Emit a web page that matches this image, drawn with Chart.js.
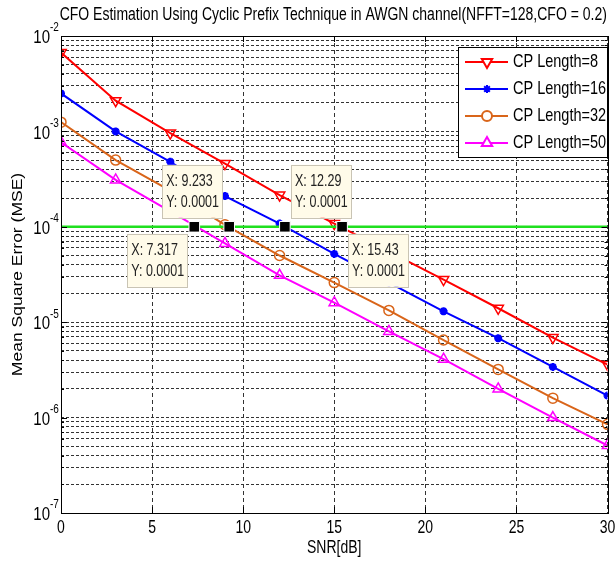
<!DOCTYPE html>
<html><head><meta charset="utf-8">
<script src="https://cdn.jsdelivr.net/npm/chart.js@4/dist/chart.umd.min.js"></script>
<style>html,body{margin:0;padding:0;overflow:hidden;background:#fff;width:616px;height:565px}canvas{display:block}</style>
</head><body>
<canvas id="c" width="616" height="565"></canvas>
<script>
// ---- data ----
const snr = [0, 3, 6, 9, 12, 15, 18, 21, 24, 27, 30];
const cp8  = [6.7e-3, 2.1e-3, 9.6e-4, 4.6e-4, 2.15e-4, 1.08e-4, 5.5e-5, 2.8e-5, 1.4e-5, 6.9e-6, 3.6e-6];
const cp16 = [2.5e-3, 1.0e-3, 4.8e-4, 2.1e-4, 1.08e-4, 5.2e-5, 2.6e-5, 1.3e-5, 6.8e-6, 3.4e-6, 1.7e-6];
const cp32 = [1.25e-3, 5.0e-4, 2.4e-4, 1.05e-4, 5.0e-5, 2.6e-5, 1.33e-5, 6.5e-6, 3.2e-6, 1.6e-6, 8.5e-7];
const cp50 = [7.7e-4, 3.1e-4, 1.45e-4, 6.7e-5, 3.1e-5, 1.6e-5, 8.0e-6, 4.1e-6, 2.0e-6, 1.0e-6, 5.1e-7];
const seriesLabels = ['CP Length=8', 'CP Length=16', 'CP Length=32', 'CP Length=50'];
const targetMSE = 1e-4;
const targetRange = [0, 30];
const tipX = ['7.317', '9.233', '12.29', '15.43'];
const xTicks = [0, 5, 10, 15, 20, 25, 30];
const yDecades = [-7, -6, -5, -4, -3, -2];
const titleText = 'CFO Estimation Using Cyclic Prefix Technique in AWGN channel(NFFT=128,CFO = 0.2)';
const xTitle = 'SNR[dB]';
const yTitle = 'Mean Square Error (MSE)';

// ---- styles ----
const colors = ['#ff0000', '#0000ff', '#d9651a', '#ff00ff'];
const markers = [
  {pointStyle: 'triangle', rotation: 180, radius: 6, fill: false, bw: 1.5},
  {pointStyle: 'star', rotation: 0, radius: 4, fill: true, bw: 2.5},
  {pointStyle: 'circle', rotation: 0, radius: 5, fill: false, bw: 1.5},
  {pointStyle: 'triangle', rotation: 0, radius: 6, fill: false, bw: 1.5}
];
const tipPlacement = ['bl', 'tl', 'tr', 'br'];
const FONT = '"Liberation Sans", Arial, sans-serif';
const SY = 1.25;

const yTickValues = [];
yDecades.forEach((d, i) => {
  if (i < yDecades.length - 1) { for (let m = 1; m <= 9; m++) yTickValues.push(m * Math.pow(10, d)); }
  else yTickValues.push(Math.pow(10, d));
});

function txt(ctx, s, x, y, size, align, opts = {}) {
  ctx.save();
  ctx.translate(x, y);
  if (opts.rot) ctx.rotate(opts.rot);
  if (opts.rot) ctx.scale(SY, 1); else ctx.scale(1, SY);
  ctx.font = size + 'px ' + FONT;
  ctx.fillStyle = opts.color || '#000';
  ctx.textAlign = align;
  ctx.textBaseline = 'middle';
  ctx.fillText(s, 0, 0);
  ctx.restore();
}

function drawMarker(ctx, i, x, y) {
  const m = markers[i];
  Chart.helpers.drawPoint(ctx, {pointStyle: m.pointStyle, rotation: m.rotation, radius: m.radius, borderWidth: m.bw}, x, y);
}

const decor = {
  id: 'decor',
  afterDatasetsDraw(chart) {
    const {ctx, chartArea: a, scales: {x, y}} = chart;
    ctx.save();
    ctx.setLineDash([]);
    ctx.strokeStyle = '#000';
    ctx.lineWidth = 1;
    // tick marks
    ctx.beginPath();
    xTicks.forEach(v => {
      const px = Math.round(x.getPixelForValue(v)) + 0.5;
      ctx.moveTo(px, a.bottom); ctx.lineTo(px, a.bottom - 6);
      ctx.moveTo(px, a.top); ctx.lineTo(px, a.top + 6);
    });
    yTickValues.forEach(v => {
      const py = Math.round(y.getPixelForValue(v)) + 0.5;
      const major = Math.abs(Math.log10(v) - Math.round(Math.log10(v))) < 1e-9;
      const len = major ? 6 : 3;
      ctx.moveTo(a.left, py); ctx.lineTo(a.left + len, py);
      ctx.moveTo(a.right, py); ctx.lineTo(a.right - len, py);
    });
    ctx.stroke();
    // box
    ctx.strokeRect(Math.round(a.left) + 0.5, Math.round(a.top) + 0.5, Math.round(a.right - a.left), Math.round(a.bottom - a.top));

    // data tips
    const py = y.getPixelForValue(targetMSE);
    tipX.forEach((t, i) => {
      const px = x.getPixelForValue(parseFloat(t));
      const w = 60, h = 53;
      const pl = tipPlacement[i];
      const left = pl[1] === 'l' ? px - 7 - w : px + 6;
      const top = pl[0] === 't' ? py - 9 - h : py + 7;
      ctx.fillStyle = '#fffbe9';
      ctx.strokeStyle = '#c9c4b4';
      ctx.lineWidth = 1;
      ctx.fillRect(left, top, w, h);
      ctx.strokeRect(Math.round(left) + 0.5, Math.round(top) + 0.5, w, h);
      txt(ctx, 'X: ' + t, left + 4, top + 17, 12.5, 'left', {color: '#222'});
      txt(ctx, 'Y: ' + targetMSE, left + 4, top + 38, 12.5, 'left', {color: '#222'});
    });

    // legend
    const lx = 458, ly = 47, lw = 149, lh = 110;
    ctx.fillStyle = '#fff';
    ctx.fillRect(lx, ly, lw, lh);
    ctx.strokeStyle = '#000';
    ctx.strokeRect(lx + 0.5, ly + 0.5, lw, lh);
    seriesLabels.forEach((s, i) => {
      const cy = 62 + i * 27;
      ctx.strokeStyle = colors[i];
      ctx.lineWidth = 2;
      ctx.beginPath(); ctx.moveTo(465, cy); ctx.lineTo(508, cy); ctx.stroke();
      ctx.fillStyle = markers[i].fill ? colors[i] : '#fff';
      drawMarker(ctx, i, 487, cy);
      txt(ctx, s, 513, cy, 14.5, 'left');
    });
    ctx.restore();
  },
  afterDraw(chart) {
    const {ctx, chartArea: a, scales: {x, y}} = chart;
    const cx = (a.left + a.right) / 2;
    txt(ctx, titleText, cx - 1, 15, 14, 'center');
    xTicks.forEach(v => txt(ctx, String(v), x.getPixelForValue(v), 528, 14, 'center'));
    txt(ctx, xTitle, cx, 548, 14, 'center');
    txt(ctx, yTitle, 18, (a.top + a.bottom) / 2, 14, 'center', {rot: -Math.PI / 2});
    yDecades.forEach(d => {
      const py = y.getPixelForValue(Math.pow(10, d));
      txt(ctx, '10', 50, py + 2, 15, 'right');
      txt(ctx, String(d), 50, py - 8, 10, 'left');
    });
  }
};

const seriesData = [cp8, cp16, cp32, cp50];
const datasets = [
  {
    label: 'tips',
    data: tipX.map(t => ({x: parseFloat(t), y: targetMSE})),
    showLine: false, pointStyle: 'rect', pointRadius: 7.5,
    pointBackgroundColor: '#000', pointBorderColor: '#fff', pointBorderWidth: 1
  },
  {
    label: 'target',
    data: targetRange.map(v => ({x: v, y: targetMSE})),
    borderColor: '#1fe01f', borderWidth: 2.5, pointRadius: 0
  }
];
seriesData.forEach((arr, i) => {
  datasets.push({
    label: seriesLabels[i],
    data: snr.map((s, k) => ({x: s, y: arr[k]})),
    borderColor: colors[i], borderWidth: 2, tension: 0,
    pointStyle: markers[i].pointStyle, pointRotation: markers[i].rotation,
    pointRadius: markers[i].radius, pointBorderWidth: markers[i].bw,
    pointBorderColor: colors[i],
    pointBackgroundColor: markers[i].fill ? colors[i] : 'rgba(0,0,0,0)'
  });
});

new Chart(document.getElementById('c'), {
  type: 'line',
  data: {datasets},
  options: {
    responsive: false, animation: false, devicePixelRatio: 1,
    layout: {padding: {left: 61, top: 36, right: 3, bottom: 52}},
    plugins: {legend: {display: false}, title: {display: false}, tooltip: {enabled: false}},
    events: [],
    scales: {
      x: {
        type: 'linear', min: 0, max: 30,
        ticks: {display: false},
        grid: {color: '#333', lineWidth: 1, drawTicks: false},
        border: {display: false, dash: [4, 3]},
        afterBuildTicks: s => { s.ticks = xTicks.map(v => ({value: v})); },
        afterFit: s => { s.height = 0; }
      },
      y: {
        type: 'logarithmic', min: 1e-7, max: 1e-2,
        ticks: {display: false},
        grid: {color: '#333', lineWidth: 1, drawTicks: false},
        border: {display: false, dash: [3, 2]},
        afterBuildTicks: s => { s.ticks = yTickValues.map(v => ({value: v})); },
        afterFit: s => { s.width = 0; }
      }
    }
  },
  plugins: [decor]
});
</script>
</body></html>
